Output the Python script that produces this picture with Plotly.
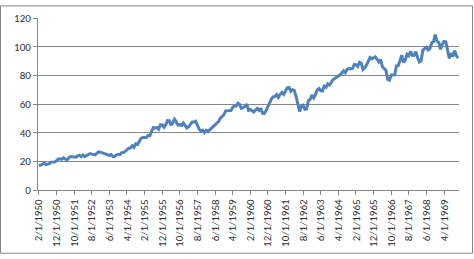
import plotly.graph_objects as go

# Monthly values, Feb 1950 .. Dec 1969
v1950 = [17.22, 17.29, 17.96, 18.78, 17.69, 17.84, 18.42, 19.45, 19.53, 19.51, 20.41]
v1951 = [21.66, 21.80, 21.40, 22.43, 21.52, 20.96, 22.40, 23.28, 23.26, 22.94, 22.88, 23.77]
v1952 = [24.14, 23.26, 24.37, 23.32, 23.86, 24.96, 25.40, 25.03, 24.54, 24.52, 25.66, 26.57]
v1953 = [26.38, 25.90, 25.29, 24.62, 24.54, 24.14, 24.75, 23.32, 23.35, 24.54, 24.76, 24.81]
v1954 = [26.08, 26.15, 26.94, 28.26, 29.19, 29.21, 30.88, 29.83, 32.31, 31.68, 34.24, 35.98]
v1955 = [36.63, 36.76, 36.58, 37.96, 37.91, 41.03, 43.52, 43.18, 43.67, 42.34, 45.51, 45.48]
v1956 = [43.82, 45.34, 48.48, 48.38, 45.20, 46.97, 49.39, 47.51, 45.35, 45.58, 45.08, 46.67]
v1957 = [44.72, 43.26, 44.11, 45.74, 47.43, 47.37, 47.91, 45.22, 42.42, 41.06, 41.72, 39.99]
v1958 = [41.70, 40.84, 42.10, 43.44, 44.09, 45.24, 47.19, 47.75, 50.06, 51.33, 52.48, 55.21]
v1959 = [55.42, 55.41, 55.44, 57.59, 58.68, 58.47, 60.51, 59.60, 56.88, 57.52, 58.28, 59.89]
v1960 = [55.61, 56.12, 55.34, 54.37, 55.83, 56.92, 55.51, 56.96, 53.52, 53.39, 55.54, 58.11]
v1961 = [61.78, 63.44, 65.06, 65.31, 66.56, 64.64, 66.76, 68.07, 66.73, 68.62, 71.32, 71.55]
v1962 = [68.84, 69.96, 69.55, 65.24, 59.63, 54.75, 58.23, 59.12, 56.27, 56.52, 62.26, 63.10]
v1963 = [66.20, 64.29, 66.57, 69.80, 70.80, 69.37, 69.13, 72.50, 71.70, 74.01, 73.23, 75.02]
v1964 = [77.04, 77.80, 78.98, 79.46, 80.37, 81.69, 83.18, 81.83, 84.18, 84.86, 84.42, 84.75]
v1965 = [87.56, 87.43, 86.16, 89.11, 88.42, 84.12, 85.25, 87.17, 89.96, 92.42, 91.61, 92.43]
v1966 = [92.88, 91.22, 89.23, 91.06, 86.13, 84.74, 83.60, 77.10, 76.56, 80.20, 80.45, 80.33]
v1967 = [86.61, 86.78, 90.20, 94.01, 89.08, 90.64, 94.75, 93.64, 96.71, 93.90, 94.00, 96.47]
v1968 = [92.24, 89.36, 90.20, 97.59, 98.68, 99.58, 97.74, 98.86, 102.67, 103.41, 108.37, 103.86]
v1969 = [103.01, 98.13, 101.51, 103.69, 103.46, 97.71, 91.83, 95.51, 93.12, 97.24, 93.81, 92.06]

values = (v1950 + v1951 + v1952 + v1953 + v1954 + v1955 + v1956 + v1957 + v1958 + v1959
          + v1960 + v1961 + v1962 + v1963 + v1964 + v1965 + v1966 + v1967 + v1968 + v1969)

start_year, start_month = 1950, 2
categories = []
for i in range(len(values)):
    m = start_month - 1 + i
    categories.append(f"{m % 12 + 1}/1/{start_year + m // 12}")

tick_step = 10
tick_labels = categories[::tick_step]

W, H = 474, 259
L, R, T, B = 38, 15, 13, 68
pw, ph = W - L - R, H - T - B
axis_col = "#868686"
font = dict(family="Carlito, 'Open Sans', 'Noto Sans', sans-serif", size=11, color="#303030")

fig = go.Figure()
fig.add_trace(go.Scatter(
    x=categories, y=values, mode="lines",
    line=dict(color="#4F81BD", width=3), hoverinfo="skip", showlegend=False,
))

fig.update_layout(
    width=W, height=H,
    margin=dict(l=L, r=R, t=T, b=B),
    paper_bgcolor="white", plot_bgcolor="white",
    font=font,
    xaxis=dict(
        type="category", categoryorder="array", categoryarray=categories,
        range=[-0.5, len(categories) - 0.5],
        tickmode="array", tickvals=tick_labels, ticktext=tick_labels,
        tickangle=-90, ticks="outside", ticklen=4, tickcolor=axis_col,
        showgrid=False, showline=True, linecolor=axis_col, linewidth=1,
        tickfont=font, zeroline=False,
    ),
    yaxis=dict(
        range=[0, 120], dtick=20, tick0=0,
        ticks="outside", ticklen=4, tickcolor=axis_col,
        showgrid=True, gridcolor=axis_col, gridwidth=1,
        showline=True, linecolor=axis_col, linewidth=1,
        zeroline=False, tickfont=font,
    ),
    shapes=[dict(
        type="rect", xref="paper", yref="paper",
        x0=-(L - 0.5) / pw, x1=1 + (R - 1.5) / pw,
        y0=-(B - 2.5) / ph, y1=1 + (T - 0.5) / ph,
        line=dict(color=axis_col, width=1), fillcolor="rgba(0,0,0,0)", layer="below",
    )],
)

fig.write_html("out.html")
